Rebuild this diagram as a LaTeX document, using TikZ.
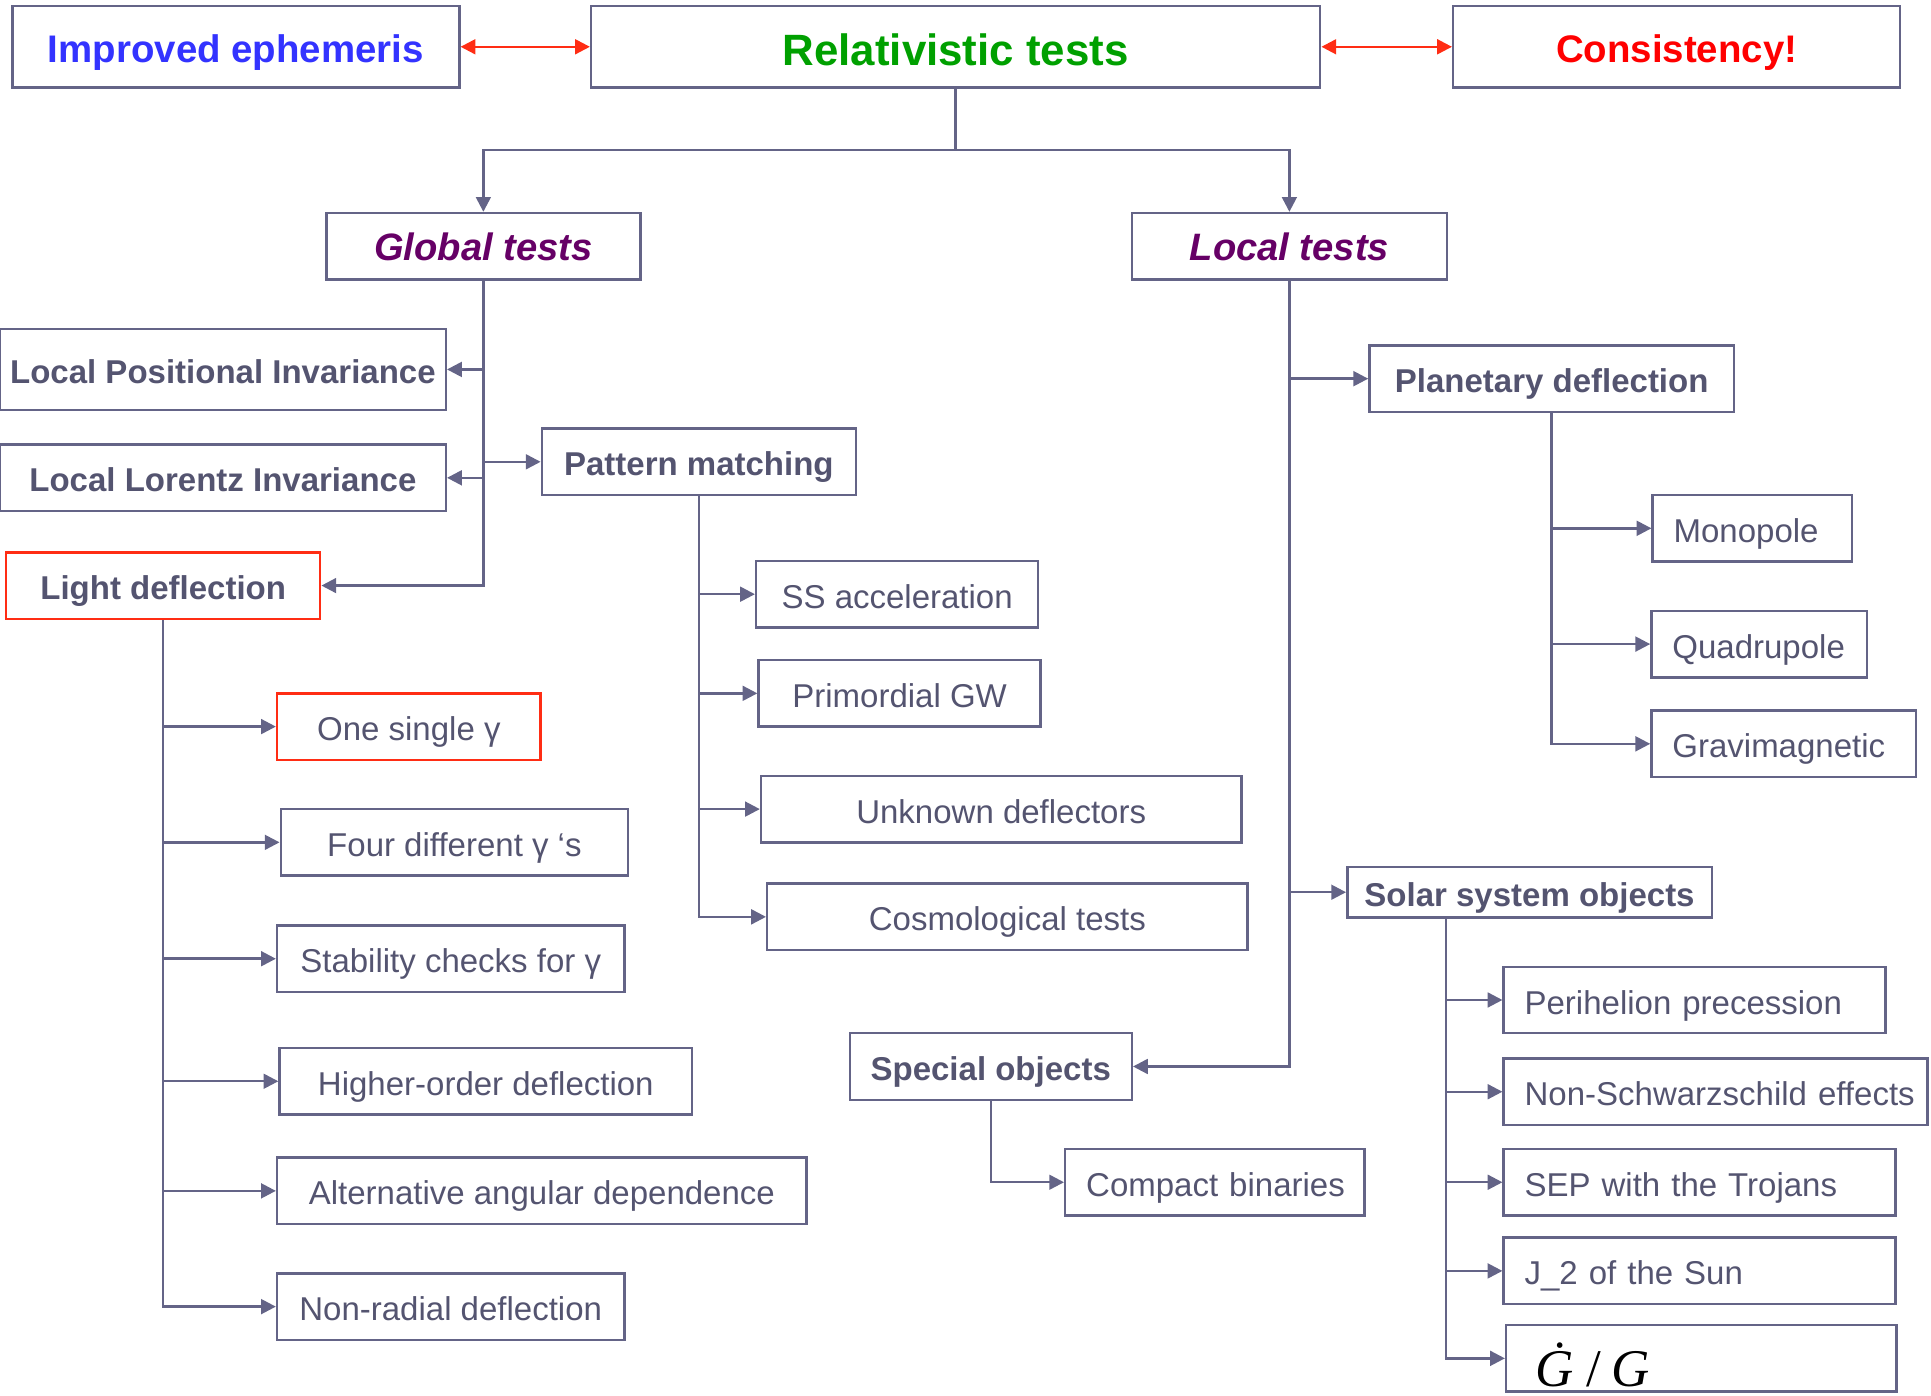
\documentclass[tikz,border=0pt]{standalone}
\usepackage{fontspec}
\setmainfont{Liberation Sans}
\newfontfamily\timesfont{Liberation Serif}
\usetikzlibrary{arrows.meta}

\definecolor{linegray}{RGB}{100,100,135}
\definecolor{textgray}{RGB}{84,84,112}
\definecolor{boxred}{RGB}{255,45,20}
\definecolor{titlegreen}{RGB}{0,160,0}
\definecolor{ephblue}{RGB}{51,51,255}
\definecolor{testpurple}{RGB}{102,0,102}

\newcommand{\bodysize}{\fontsize{13.4}{16}\selectfont}
\newcommand{\headsize}{\fontsize{15.6}{18}\selectfont}

\begin{document}
\begin{tikzpicture}[x=0.5pt, y=-0.5pt,
    box/.style={draw=linegray, line width=1pt, inner sep=0pt, minimum height=27pt,
      text=textgray, font=\bodysize, text height=13pt, text depth=1.6pt},
    bbox/.style={box, font=\bodysize\bfseries},
    lbox/.style={box, align=left, inner xsep=8.5pt},
    topbox/.style={box, minimum height=33pt, minimum width=181.5pt,
      text height=15pt, text depth=2pt},
    testbox/.style={box, minimum width=128pt, text=testpurple,
      font=\fontsize{15.5}{18}\selectfont\bfseries\itshape,
      text height=12.5pt, text depth=1.1pt},
    link/.style={draw=linegray, line width=1pt, -{Triangle[length=6pt,width=6pt]}},
    plain/.style={draw=linegray, line width=1pt},
    redlink/.style={draw=boxred, line width=1pt,
      {Triangle[length=6pt,width=6pt]}-{Triangle[length=6pt,width=6pt]}}]
  \useasboundingbox (0,0) rectangle (1568,1133);

  % top row
  \node[topbox, text=ephblue, font=\headsize\bfseries] (eph) at (191.5,38) {Improved ephemeris};
  \node[topbox, minimum width=296pt, text=titlegreen, text height=16pt, text depth=1pt,
    font=\fontsize{17.8}{20}\selectfont\bfseries] (rel) at (776,38) {Relativistic tests};
  \node[topbox, text=red, font=\headsize\bfseries] (cons) at (1361.5,38) {Consistency!};
  \draw[redlink] (eph) -- (rel);
  \draw[redlink] (rel) -- (cons);

  \node[testbox, minimum width=127.5pt] (global) at (392.5,200) {Global tests};
  \node[testbox] (local) at (1047,200) {Local tests};
  \coordinate (split) at (776,122);
  \draw[plain] (rel.south) -- (split);
  \draw[link] (split) -| (global.north);
  \draw[link] (split) -| (local.north);

  % global tests
  \node[bbox, minimum width=181pt, minimum height=33pt] (lpi) at (181,300) {Local Positional Invariance};
  \node[bbox, minimum width=181pt] (lli) at (181,388) {Local Lorentz Invariance};
  \node[bbox, minimum width=127.5pt] (pattern) at (567.5,375) {Pattern matching};
  \node[bbox, draw=boxred, minimum width=127.5pt] (ld) at (132.5,475.5) {Light deflection};
  \foreach \n in {lpi,lli,ld}
    \draw[link] (global.south) |- (\n.east);
  \draw[link] (global.south) |- (pattern.west);

  \node[box, draw=boxred, minimum width=107pt] (one) at (332,590) {One single γ};
  \node[box, minimum width=141pt] (four) at (369,684) {Four different γ ‘s};
  \node[box, minimum width=141pt] (stab) at (366,778.5) {Stability checks for γ};
  \node[box, minimum width=167.5pt] (higher) at (394.5,878) {Higher-order deflection};
  \node[box, minimum width=215pt] (alt) at (440,967) {Alternative angular dependence};
  \node[box, minimum width=141pt] (nonrad) at (366,1061) {Non-radial deflection};
  \foreach \n in {one,four,stab,higher,alt,nonrad}
    \draw[link] (ld.south) |- (\n.west);

  \node[box, minimum width=114.5pt] (ssacc) at (728.5,482.5) {SS acceleration};
  \node[box, minimum width=114.5pt] (pgw) at (730.5,563) {Primordial GW};
  \node[box, minimum width=195pt] (unknown) at (813,657) {Unknown deflectors};
  \node[box, minimum width=195pt] (cosmo) at (818,744.5) {Cosmological tests};
  \foreach \n in {ssacc,pgw,unknown,cosmo}
    \draw[link] (pattern.south) |- (\n.west);

  % local tests
  \node[bbox, minimum width=148pt] (planet) at (1260,307.5) {Planetary deflection};
  \node[bbox, minimum width=148pt, minimum height=20.5pt] (solar) at (1242,724.5) {Solar system objects};
  \node[bbox, minimum width=114.5pt] (special) at (804.5,866) {Special objects};
  \draw[link] (local.south) |- (planet.west);
  \draw[link] (local.south) |- (solar.west);
  \draw[link] (local.south) |- (special.east);

  \node[lbox, text width=64pt] (mono) at (1423,429) {Monopole};
  \node[lbox, text width=70.5pt] (quad) at (1428.5,523) {Quadrupole};
  \node[lbox, text width=90.5pt] (grav) at (1448.5,604) {Gravimagnetic};
  \foreach \n in {mono,quad,grav}
    \draw[link] (planet.south) |- (\n.west);

  \node[lbox, text width=138pt] (peri) at (1376,812) {Perihelion precession};
  \node[lbox, text width=155pt] (nonschw) at (1393,886.5) {\mbox{Non-Schwarzschild effects}};
  \node[lbox, text width=142pt] (sep) at (1380,960) {SEP with the Trojans};
  \node[lbox, text width=142pt] (jtwo) at (1380,1032) {J\_2 of the Sun};
  \node[lbox, text width=141.5pt, text=black, font=\timesfont\fontsize{21.5}{24}\selectfont,
    text height=23.5pt, text depth=1pt] (gdot) at (1381.5,1103)
    {\,{\itshape Ġ}\hspace{5pt}/\hspace{4pt}{\itshape G}};
  \coordinate (soltrunk) at ([xshift=40.5pt]solar.south west);
  \foreach \n in {peri,nonschw,sep,jtwo,gdot}
    \draw[link] (soltrunk) |- (\n.west);

  \node[lbox, text width=104.5pt] (compact) at (986.5,960) {\mbox{Compact binaries}};
  \draw[link] (special.south) |- (compact.west);
\end{tikzpicture}
\end{document}
